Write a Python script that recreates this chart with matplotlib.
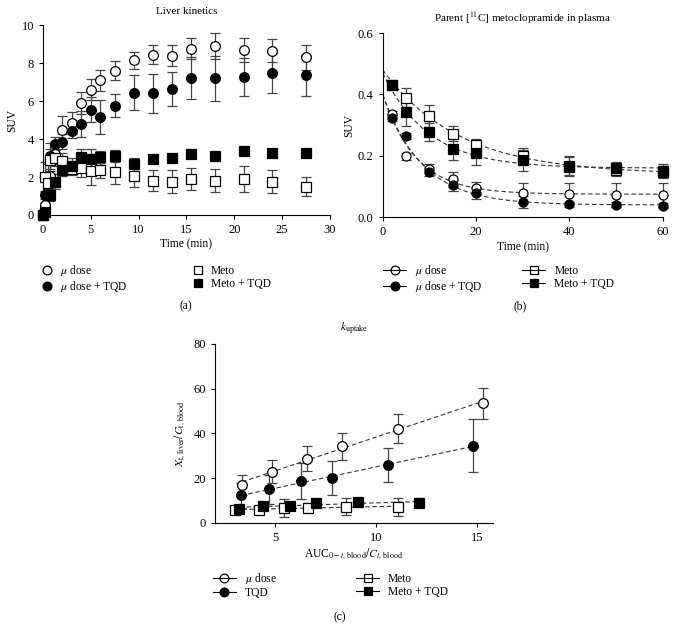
import numpy as np
import matplotlib
matplotlib.use("Agg")
import matplotlib.pyplot as plt
from matplotlib.lines import Line2D

plt.rcParams['font.family'] = ['Liberation Serif', 'DejaVu Serif']
plt.rcParams['mathtext.fontset'] = 'stix'
plt.rcParams['font.size'] = 8.3

# ---- (a) liver kinetics ----
t_liver = [0, 0.25, 0.5, 0.75, 1.25, 2, 3, 4, 5, 6, 7.5, 9.5, 11.5, 13.5, 15.5, 18, 21, 24, 27.5]
mu_liver = [0.0, 0.55, 1.9, 2.05, 3.2, 4.5, 4.85, 5.9, 6.6, 7.1, 7.6, 8.15, 8.45, 8.4, 8.75, 8.9, 8.7, 8.65, 8.3]
mu_liver_err = [0, 0.1, 0.8, 0.7, 0.5, 0.7, 0.6, 0.6, 0.55, 0.55, 0.5, 0.45, 0.5, 0.55, 0.55, 0.7, 0.65, 0.6, 0.65]
mutqd_liver = [0.0, 1.05, 1.1, 3.1, 3.75, 3.85, 4.45, 4.8, 5.55, 5.15, 5.75, 6.45, 6.4, 6.65, 7.2, 7.2, 7.25, 7.5, 7.35]
mutqd_liver_err = [0, 0.2, 0.3, 0.7, 0.35, 0.4, 0.4, 0.7, 0.65, 0.9, 0.6, 0.9, 1.05, 0.9, 1.1, 1.2, 1.0, 1.05, 1.1]
meto_liver = [0.0, 2.0, 1.7, 2.9, 3.0, 2.85, 2.4, 2.45, 2.3, 2.35, 2.25, 2.05, 1.8, 1.75, 1.9, 1.8, 1.9, 1.75, 1.5]
meto_liver_err = [0, 0.8, 0.5, 0.6, 0.4, 0.4, 0.3, 0.45, 0.7, 0.4, 0.6, 0.55, 0.55, 0.6, 0.6, 0.6, 0.7, 0.6, 0.5]
metotqd_liver = [0.0, 0.15, 1.05, 1.05, 1.75, 2.35, 2.6, 3.05, 2.95, 3.05, 3.1, 2.7, 2.95, 3.0, 3.2, 3.1, 3.35, 3.25, 3.25]
metotqd_liver_err = [0, 0.1, 0.3, 0.3, 0.4, 0.3, 0.4, 0.4, 0.5, 0.3, 0.3, 0.3, 0.2, 0.2, 0.2, 0.2, 0.2, 0.2, 0.2]

# ---- (b) parent metoclopramide in plasma ----
t_plasma = [2, 5, 10, 15, 20, 30, 40, 50, 60]
mu_plasma = [0.335, 0.198, 0.158, 0.123, 0.095, 0.080, 0.075, 0.073, 0.073]
mu_plasma_err = [0.01, 0.012, 0.015, 0.025, 0.02, 0.033, 0.035, 0.04, 0.04]
mutqd_plasma = [0.323, 0.265, 0.148, 0.105, 0.080, 0.050, 0.042, 0.040, 0.038]
mutqd_plasma_err = [0.01, 0.01, 0.015, 0.02, 0.02, 0.02, 0.008, 0.008, 0.008]
meto_plasma = [0.430, 0.390, 0.330, 0.272, 0.235, 0.200, 0.165, 0.155, 0.148]
meto_plasma_err = [0.01, 0.03, 0.035, 0.025, 0.02, 0.025, 0.03, 0.02, 0.02]
metotqd_plasma = [0.430, 0.342, 0.278, 0.222, 0.210, 0.185, 0.168, 0.160, 0.152]
metotqd_plasma_err = [0.01, 0.045, 0.03, 0.035, 0.04, 0.035, 0.03, 0.02, 0.02]
# mono-exponential fit parameters: (value at t=0, plateau, rate)
fit_mu = (0.40, 0.075, 0.14)
fit_mutqd = (0.40, 0.040, 0.118)
fit_meto = (0.48, 0.140, 0.061)
fit_metotqd = (0.47, 0.160, 0.102)

# ---- (c) k_uptake ----
x_mu = [3.35, 4.85, 6.55, 8.3, 11.1, 15.3]
y_mu = [17, 23, 28.8, 34.2, 42.2, 53.5]
e_mu = [4.5, 5.2, 5.5, 6.2, 6.5, 7.0]
x_tqd = [3.3, 4.7, 6.25, 7.8, 10.6, 14.8]
y_tqd = [12.3, 15, 18.8, 20, 26, 34.5]
e_tqd = [5.5, 6.5, 8.0, 7.5, 7.5, 11.8]
x_meto = [3.0, 4.2, 5.4, 6.6, 8.5, 11.1]
y_meto = [6.0, 6.0, 6.5, 6.8, 7.3, 7.3]
e_meto = [1.0, 1.5, 4.0, 2.0, 3.8, 4.0]
x_metotqd = [3.2, 4.4, 5.7, 7.0, 9.1, 12.1]
y_metotqd = [6.3, 7.8, 7.5, 8.8, 9.2, 9.0]
e_metotqd = [1.2, 1.5, 1.5, 1.5, 2.0, 2.0]

ERR = '#444444'


def style_axes(ax):
    for s in ['top', 'right']:
        ax.spines[s].set_visible(False)
    ax.tick_params(direction='out', length=3, width=0.8, labelsize=9)
    for s in ['left', 'bottom']:
        ax.spines[s].set_linewidth(0.8)


def series(ax, x, y, e, marker, fill, ms):
    ax.errorbar(x, y, yerr=e, fmt='none', ecolor=ERR, elinewidth=0.9,
                capsize=3.5, capthick=0.9, zorder=2, clip_on=False)
    ax.plot(x, y, linestyle='none', marker=marker, ms=ms, mfc=fill,
            mec='black', mew=0.9, zorder=3, clip_on=False)


fig = plt.figure(figsize=(6.75, 6.37), dpi=100)

# (a)
ax1 = fig.add_axes([0.0637, 0.6625, 0.425, 0.298])
series(ax1, t_liver, mu_liver, mu_liver_err, 'o', 'white', 7)
series(ax1, t_liver, mutqd_liver, mutqd_liver_err, 'o', 'black', 7)
series(ax1, t_liver, meto_liver, meto_liver_err, 's', 'white', 7)
series(ax1, t_liver, metotqd_liver, metotqd_liver_err, 's', 'black', 7)
ax1.set_xlim(0, 30)
ax1.set_ylim(0, 10)
ax1.set_xticks(range(0, 31, 5))
ax1.set_yticks(range(0, 11, 2))
ax1.set_xlabel('Time (min)', labelpad=2)
ax1.set_ylabel('SUV', labelpad=2)
ax1.set_title('Liver kinetics', fontsize=8, pad=8)
style_axes(ax1)

# (b)
ax2 = fig.add_axes([0.567, 0.659, 0.415, 0.289])
tt = np.linspace(0, 60, 300)
for (y0, p, k) in [fit_mu, fit_mutqd, fit_meto, fit_metotqd]:
    ax2.plot(tt, p + (y0 - p) * np.exp(-k * tt), color='#333333', lw=0.8,
             ls=(0, (4, 2.5)), zorder=1)
series(ax2, t_plasma, mu_plasma, mu_plasma_err, 'o', 'white', 6.5)
series(ax2, t_plasma, mutqd_plasma, mutqd_plasma_err, 'o', 'black', 6.5)
series(ax2, t_plasma, meto_plasma, meto_plasma_err, 's', 'white', 6.5)
series(ax2, t_plasma, metotqd_plasma, metotqd_plasma_err, 's', 'black', 6.5)
ax2.set_xlim(0, 60)
ax2.set_ylim(0, 0.6)
ax2.set_xticks([0, 20, 40, 60])
ax2.set_yticks([0.0, 0.2, 0.4, 0.6])
ax2.set_yticklabels(['0.0', '0.2', '0.4', '0.6'])
ax2.set_xlabel('Time (min)', labelpad=2)
ax2.set_ylabel('SUV', labelpad=2)
ax2.set_title('Parent [$^{11}$C] metoclopramide in plasma', fontsize=8, pad=8)
style_axes(ax2)

# (c)
ax3 = fig.add_axes([0.3185, 0.179, 0.412, 0.281])
for x, y in [(x_mu, y_mu), (x_tqd, y_tqd), (x_meto, y_meto), (x_metotqd, y_metotqd)]:
    b, a = np.polyfit(x, y, 1)
    xx = np.array([min(x), max(x)])
    ax3.plot(xx, a + b * xx, color='#333333', lw=0.8, ls=(0, (4, 2.5)), zorder=1)
series(ax3, x_mu, y_mu, e_mu, 'o', 'white', 7)
series(ax3, x_tqd, y_tqd, e_tqd, 'o', 'black', 7)
series(ax3, x_meto, y_meto, e_meto, 's', 'white', 7)
series(ax3, x_metotqd, y_metotqd, e_metotqd, 's', 'black', 7)
ax3.set_xlim(2, 15.8)
ax3.set_ylim(0, 80)
ax3.set_xticks([5, 10, 15])
ax3.set_yticks(range(0, 81, 20))
ax3.set_xlabel(r'AUC$_{0-t,\,\mathrm{blood}}/C_{t,\,\mathrm{blood}}$', labelpad=2)
ax3.set_ylabel(r'$X_{\mathrm{t,\,liver}}/C_{\mathrm{t,\,blood}}$')
ax3.set_title(r'$k_{\mathrm{uptake}}$', fontsize=8.3, pad=10)
style_axes(ax3)


def handles(labels, with_line):
    specs = [('o', 'white'), ('o', 'black'), ('s', 'white'), ('s', 'black')]
    hs = []
    for (m, f), lab in zip(specs, labels):
        if with_line and f == 'white':
            f = 'none'
        hs.append(Line2D([], [], marker=m, mfc=f, mec='black', ms=6.3, mew=0.9,
                         color='black', lw=0.8 if with_line else 0,
                         ls='-' if with_line else 'none', label=lab))
    return hs


labs_ab = [r'$\mu$ dose', r'$\mu$ dose + TQD', 'Meto', 'Meto + TQD']
labs_c = [r'$\mu$ dose', 'TQD', 'Meto', 'Meto + TQD']

fig.legend(handles=handles(labs_ab, False), ncol=2, frameon=False,
           loc='upper left', bbox_to_anchor=(0.046, 0.604), fontsize=8.3,
           handlelength=1.0, handletextpad=0.6, columnspacing=5.6,
           labelspacing=0.1)
fig.legend(handles=handles(labs_ab, True), ncol=2, frameon=False,
           loc='upper left', bbox_to_anchor=(0.552, 0.604), fontsize=8.3,
           handlelength=2.0, handletextpad=0.8, columnspacing=3.4,
           labelspacing=0.1)
fig.legend(handles=handles(labs_c, True), ncol=2, frameon=False,
           loc='upper left', bbox_to_anchor=(0.300, 0.120), fontsize=8.3,
           handlelength=2.0, handletextpad=0.75, columnspacing=6.9,
           labelspacing=0.1)

fig.text(186 / 675, 1 - 306 / 637, '(a)', ha='center', va='center', fontsize=8.3)
fig.text(520 / 675, 1 - 306 / 637, '(b)', ha='center', va='center', fontsize=8.3)
fig.text(340 / 675, 1 - 617 / 637, '(c)', ha='center', va='center', fontsize=8.3)

fig.savefig('out.png', dpi=100)
